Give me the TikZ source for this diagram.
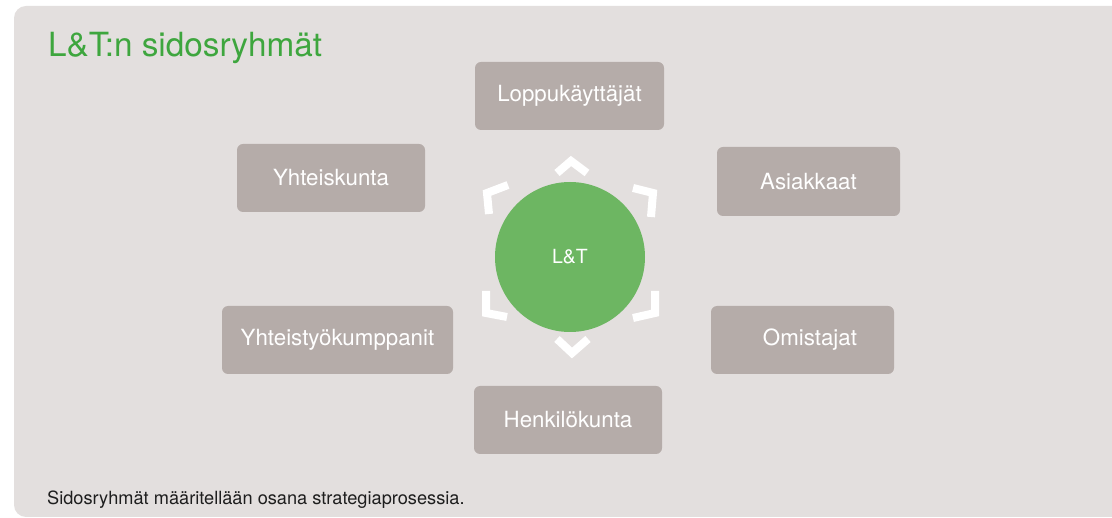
\documentclass[tikz,border=0pt]{standalone}
\usepackage{fontspec}
\setmainfont{TeX Gyre Heros}
\definecolor{panelgray}{RGB}{227,223,222}
\definecolor{boxgray}{RGB}{181,172,169}
\definecolor{ltgreen}{RGB}{109,182,98}
\definecolor{titlegreen}{RGB}{62,166,62}
\definecolor{notetext}{RGB}{30,30,30}

\begin{document}
\begin{tikzpicture}[x=1pt,y=-1pt,
  group/.style={fill=boxgray, rounded corners=6pt, minimum width=188pt,
    minimum height=68pt, inner sep=0pt, text=white,
    font=\fontsize{22.3}{26}\selectfont},
  marker/.style={draw=white, line width=8pt, line join=miter}]

\def\width{1112}
\def\height{518}

\path [use as bounding box] (0,0) rectangle (\width,\height);

% PANEL
\fill [panelgray, rounded corners=12pt] (14,6) rectangle (\width+12,517);

% TITLE
\node (title) [anchor=base west, text=titlegreen, inner sep=0pt,
  font=\fontsize{33.3}{38}\selectfont] at (48,57) {L\&T:n sidosryhmät};

% CENTRE
\node (lt) [circle, fill=ltgreen, minimum size=150pt, inner sep=0pt,
  text=white, font=\fontsize{19.5}{23}\selectfont] at (570,257) {L\&T};

% MARKERS
\draw [marker, shift={(lt.center)}] (-13,-84) -- (1,-96) -- (17,-84);
\draw [marker, shift={(lt.center)}] (-13,82) -- (2,96) -- (18,82);
\draw [marker, shift={(lt.center)}] (-62,-72) -- (-83,-64) -- (-81,-43);
\draw [marker, shift={(lt.center)}] (63,-69) -- (83,-64) -- (81,-40);
\draw [marker, shift={(lt.center)}] (-84,34) -- (-84,56) -- (-63,60);
\draw [marker, shift={(lt.center)}] (85,34) -- (85,56) -- (63,61);

% GROUPS
\node (lk) [group, minimum width=189pt] at (569.5,96) {Loppukäyttäjät};
\node (yk) [group] at (331,178) {Yhteiskunta};
\node (as) [group, minimum width=183pt, minimum height=69pt] at (808.5,181.5) {Asiakkaat};
\node (yt) [group, minimum width=231pt] at (337.5,340) {Yhteistyökumppanit};
\node (om) [group, minimum width=183pt] at (802.5,340) {\hspace*{15pt}Omistajat};
\node (hk) [group] at (568,420) {Henkilökunta};

% NOTE
\node (note) [anchor=base west, text=notetext, inner sep=0pt,
  font=\fontsize{18.2}{21}\selectfont] at (47,505)
  {Sidosryhmät määritellään osana strategiaprosessia.};

\end{tikzpicture}
\end{document}
